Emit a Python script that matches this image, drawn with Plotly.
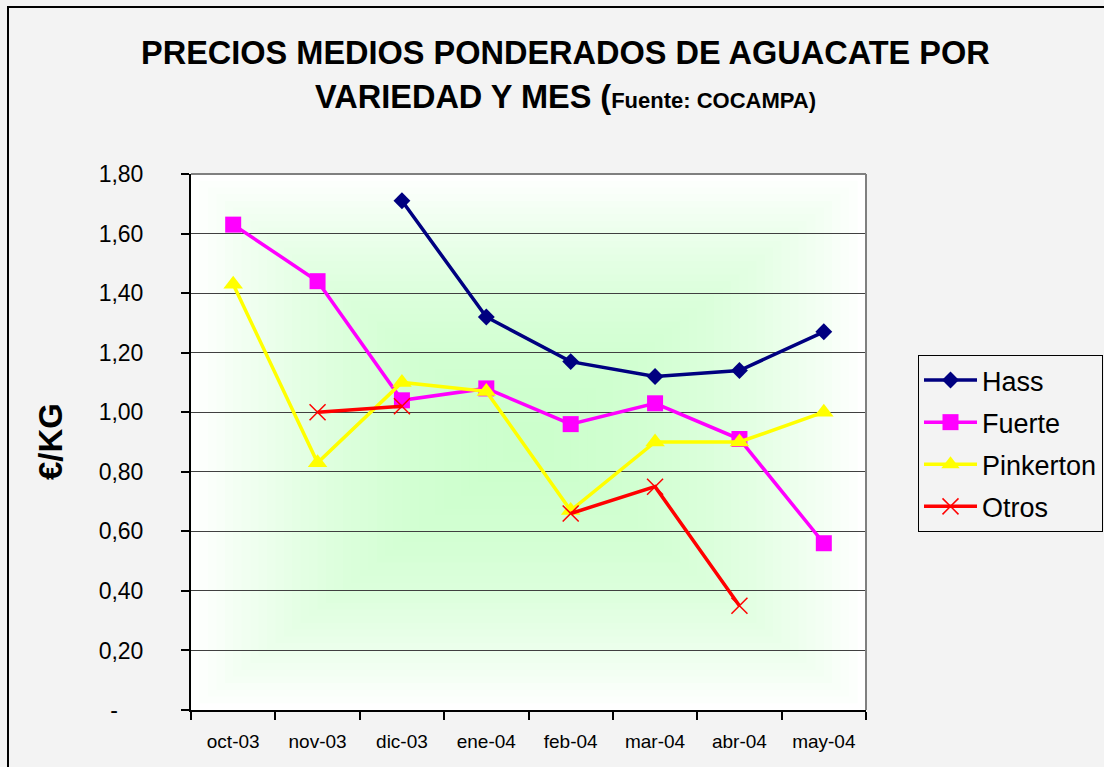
import plotly.graph_objects as go

months = ["oct-03", "nov-03", "dic-03", "ene-04", "feb-04", "mar-04", "abr-04", "may-04"]
hass = [None, None, 1.71, 1.32, 1.17, 1.12, 1.14, 1.27]
fuerte = [1.63, 1.44, 1.04, 1.08, 0.96, 1.03, 0.91, 0.56]
pinkerton = [1.43, 0.83, 1.10, 1.07, 0.67, 0.90, 0.90, 1.00]
otros = [None, 1.00, 1.02, None, 0.66, 0.75, 0.35, None]

y_tickvals = [0, 0.2, 0.4, 0.6, 0.8, 1.0, 1.2, 1.4, 1.6, 1.8]
y_ticktext = ["-\u2007\u2007", "0,20", "0,40", "0,60", "0,80", "1,00", "1,20", "1,40", "1,60", "1,80"]

FONT = "Arial, Liberation Sans, sans-serif"

fig = go.Figure()
series = [
    ("Hass", hass, "#000080", "diamond", 13, 0),
    ("Fuerte", fuerte, "#ff00ff", "square", 16, 0),
    ("Pinkerton", pinkerton, "#ffff00", "triangle-up", 17, 0),
    ("Otros", otros, "#ff0000", "x-thin", 16, 1.5),
]
for i, (name, vals, col, sym, sz, lw) in enumerate(series):
    fig.add_trace(go.Scatter(
        x=months, y=vals, name=name, mode="lines+markers",
        line=dict(color=col, width=3.5),
        marker=dict(symbol=sym, size=sz, color=col, line=dict(color=col, width=lw)),
        connectgaps=False, legendgroup=name,
    ))

# background gradient (rectangular, from centre) as layout shapes
shapes = []
N = 40
g0 = (255, 255, 255)
g1 = (0xcc, 0xff, 0xcc)
for k in range(N):
    t = 1 - k / N
    f = 1 - t ** 2.0
    c = tuple(int(round(g0[j] + (g1[j] - g0[j]) * f)) for j in range(3))
    shapes.append(dict(type="rect", xref="x domain", yref="y domain",
                       x0=0.5 - 0.5 * t, x1=0.5 + 0.5 * t, y0=0.5 - 0.5 * t, y1=0.5 + 0.5 * t,
                       fillcolor="rgb(%d,%d,%d)" % c, line=dict(width=0), layer="below"))
# top and right frame lines
shapes.append(dict(type="line", xref="x domain", yref="y domain", x0=0, x1=1, y0=1, y1=1,
                   line=dict(color="#808080", width=2), layer="above"))
shapes.append(dict(type="line", xref="x domain", yref="y domain", x0=1, x1=1, y0=0, y1=1,
                   line=dict(color="#808080", width=2), layer="above"))
# outer chart border
L, T, W, H = 191, 174, 675, 536
def px(x):
    return (x - L) / W
def py(y):
    return (T + H - y) / H
shapes.append(dict(type="rect", xref="paper", yref="paper",
                   x0=px(8), x1=px(1115), y0=py(780), y1=py(7),
                   line=dict(color="black", width=2), fillcolor="rgba(0,0,0,0)", layer="above"))

fig.update_layout(
    width=1104, height=767,
    margin=dict(l=L, r=1104 - L - W, t=T, b=767 - T - H, autoexpand=False),
    paper_bgcolor="#f3f3f3", plot_bgcolor="white",
    font=dict(family=FONT, color="black"),
    shapes=shapes,
    showlegend=True,
    legend=dict(x=px(918), y=py(355), xanchor="left", yanchor="top",
                bgcolor="#f3f3f3", bordercolor="black", borderwidth=1,
                font=dict(size=27, family=FONT), traceorder="grouped",
                tracegroupgap=4, itemwidth=53),
    xaxis=dict(type="category", categoryorder="array", categoryarray=months,
               range=[-0.5, 7.5], tickson="boundaries", ticks="outside", ticklen=8,
               tickcolor="black", tickwidth=1.5, showline=True, linecolor="black", linewidth=2,
               showgrid=False, tickfont=dict(size=19, family=FONT), ticklabelstandoff=13,
               automargin=False),
    yaxis=dict(range=[0, 1.8], tickvals=y_tickvals, ticktext=y_ticktext,
               ticks="outside", ticklen=8, tickcolor="black", tickwidth=1.5,
               showline=True, linecolor="black", linewidth=2,
               showgrid=True, gridcolor="#404040", gridwidth=1, zeroline=False,
               tickfont=dict(size=23, family=FONT), ticklabelstandoff=33,
               automargin=False),
    annotations=[
        dict(text="<b>PRECIOS MEDIOS PONDERADOS DE AGUACATE POR</b>", xref="paper", yref="paper",
             x=px(565), y=py(53), xanchor="center", yanchor="middle", showarrow=False,
             font=dict(size=32.5, family=FONT)),
        dict(text="<b>VARIEDAD Y MES (<span style='font-size:22px'>Fuente: COCAMPA)</span></b>",
             xref="paper", yref="paper",
             x=px(565), y=py(97), xanchor="center", yanchor="middle", showarrow=False,
             font=dict(size=32.5, family=FONT)),
        dict(text="<b>€/KG</b>", xref="paper", yref="paper", x=px(50), y=0.5,
             xanchor="center", yanchor="middle", textangle=-90, showarrow=False,
             font=dict(size=33, family=FONT)),
    ],
)

fig.write_html("out.html", config={"displayModeBar": False},
               post_script="document.body.style.margin='0';document.body.style.overflow='hidden';")
